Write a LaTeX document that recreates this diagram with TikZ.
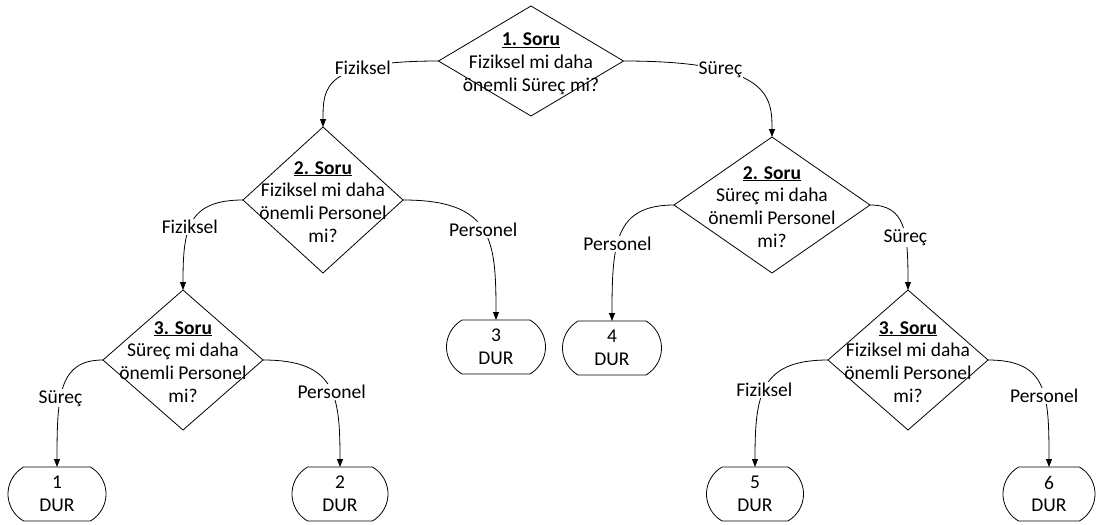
\documentclass[tikz,border=0pt]{standalone}
\usepackage{fontspec}
\setmainfont{Carlito}
\usetikzlibrary{shapes.geometric,shapes.misc,arrows.meta}
\begin{document}
\begin{tikzpicture}[x=1pt,y=-1pt,
  every node/.style={font=\fontsize{19.5}{22.8}\selectfont},
  dia/.style={draw,shape=diamond,inner sep=0pt,outer sep=0pt,line width=0.8pt},
  dtext/.style={align=center,inner sep=0pt},
  term/.style={draw,rounded rectangle,rounded rectangle arc length=120,
    minimum height=54pt,inner sep=0pt,outer sep=0pt,align=center,line width=0.8pt},
  conn/.style={draw,line width=0.8pt,-{Triangle[length=8pt,width=6pt]}},
  lab/.style={fill=white,inner sep=1pt}]
\path[fill=white,use as bounding box] (0,0) rectangle (1096,525);

% diamonds
\node[dia,minimum width=185pt,minimum height=110pt] (d1) at (531,61) {};
\node[dia,minimum width=160pt,minimum height=146pt] (d2l) at (323,200) {};
\node[dia,minimum width=160pt,minimum height=140pt] (d3l) at (183,360) {};
\node[dia,minimum width=196pt,minimum height=136pt] (d2r) at (772,205) {};
\node[dia,minimum width=160pt,minimum height=140pt] (d3r) at (908,360) {};

\node[dtext] (d1t) at (531,64) {\underline{\textbf{1. Soru}}\\Fiziksel mi daha\\önemli Süreç mi?};
\node[dtext] (d2lt) at (323,202) {\underline{\textbf{2. Soru}}\\Fiziksel mi daha\\önemli Personel\\mi?};
\node[dtext] (d3lt) at (183,362) {\underline{\textbf{3. Soru}}\\Süreç mi daha\\önemli Personel\\mi?};
\node[dtext] (d2rt) at (772,207) {\underline{\textbf{2. Soru}}\\Süreç mi daha\\önemli Personel\\mi?};
\node[dtext] (d3rt) at (908,362) {\underline{\textbf{3. Soru}}\\Fiziksel mi daha\\önemli Personel\\mi?};

% terminals
\node[term,minimum width=98pt] (dur1) at (57,494) {1\\DUR};
\node[term,minimum width=96pt] (dur2) at (340,494) {2\\DUR};
\node[term,minimum width=99pt] (dur3) at (496,347) {3\\DUR};
\node[term,minimum width=99pt] (dur4) at (612,348) {4\\DUR};
\node[term,minimum width=97pt] (dur5) at (755,494) {5\\DUR};
\node[term,minimum width=92pt] (dur6) at (1049,494) {6\\DUR};

% connectors
\draw[conn] (d1.west) .. controls +(-115,0) and +(0,-40) .. node[lab,pos=0.3] {Fiziksel} (d2l.north);
\draw[conn] (d1.east) .. controls +(147,0) and +(0,-40) .. node[lab,pos=0.3] {Süreç} (d2r.north);
\draw[conn] (d2l.west) .. controls +(-56,0) and +(0,-60) .. node[lab,pos=0.55] {Fiziksel} (d3l.north);
\draw[conn] (d2l.east) .. controls +(90,0) and +(0,-80) .. node[lab,pos=0.5] {Personel} (dur3.north);
\draw[conn] (d3l.west) .. controls +(-44,0) and +(0,-72) .. node[lab,pos=0.6] {Süreç} (dur1.north);
\draw[conn] (d3l.east) .. controls +(73,0) and +(0,-72) .. node[lab,pos=0.55] {Personel} (dur2.north);
\draw[conn] (d2r.west) .. controls +(-59,0) and +(0,-78) .. node[lab,pos=0.58] {Personel} (dur4.north);
\draw[conn] (d2r.east) .. controls +(36,0) and +(0,-57) .. node[lab,pos=0.62] {Süreç} (d3r.north);
\draw[conn] (d3r.west) .. controls +(-68,0) and +(0,-72) .. node[lab,pos=0.53] {Fiziksel} (dur5.north);
\draw[conn] (d3r.east) .. controls +(60,0) and +(0,-72) .. node[lab,pos=0.58] {Personel} (dur6.north);
\end{tikzpicture}
\end{document}
